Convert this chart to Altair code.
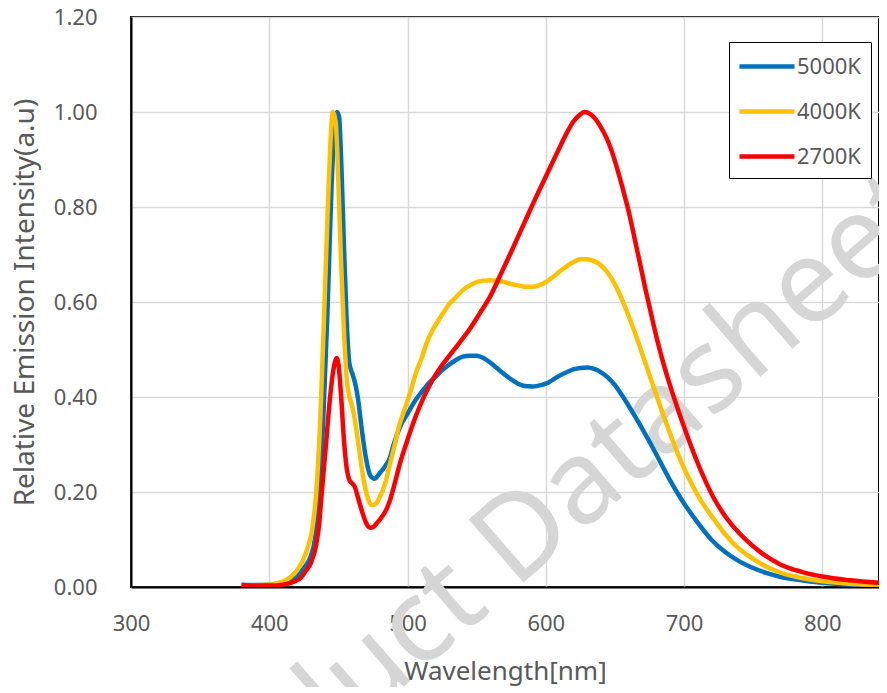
import altair as alt
import pandas as pd

# ---- data ----
wl_5000 = [380, 390, 400, 410, 415, 420, 425, 430, 433, 436, 439, 442, 445, 447, 449, 450.5, 452, 454, 456, 458,
           460, 462, 464, 467, 470, 473, 476, 480, 484, 487, 490, 495, 500, 505, 510, 515, 520, 525, 530, 535,
           540, 545, 550, 555, 560, 565, 570, 575, 580, 585, 590, 595, 600, 605, 610, 615, 620, 625, 630, 635,
           640, 645, 650, 655, 660, 665, 670, 675, 680, 685, 690, 695, 700, 710, 720, 730, 740, 750, 760, 770,
           780, 790, 800, 820, 850]
val_5000 = [0.004, 0.004, 0.005, 0.008, 0.013, 0.022, 0.04, 0.065, 0.10, 0.19, 0.35, 0.57, 0.84, 0.96, 1.00, 0.99, 0.90, 0.72, 0.56, 0.47,
            0.45, 0.43, 0.40, 0.33, 0.27, 0.235, 0.228, 0.24, 0.255, 0.27, 0.30, 0.34, 0.365, 0.39, 0.41, 0.428, 0.442, 0.456, 0.468, 0.478,
            0.485, 0.487, 0.487, 0.482, 0.472, 0.46, 0.448, 0.437, 0.428, 0.423, 0.422, 0.424, 0.428, 0.436, 0.445, 0.452, 0.458, 0.461, 0.462, 0.459,
            0.452, 0.441, 0.425, 0.404, 0.381, 0.357, 0.332, 0.306, 0.279, 0.251, 0.224, 0.199, 0.176, 0.135, 0.099, 0.073, 0.054, 0.04, 0.029, 0.021,
            0.016, 0.012, 0.009, 0.005, 0.002]

wl_4000 = [380, 400, 410, 415, 420, 425, 428, 431, 434, 437, 440, 442, 444, 446, 448, 450, 452, 454, 456, 458,
           460, 462, 465, 468, 471, 474, 477, 480, 484, 487, 490, 494, 498, 502, 506, 510, 514, 518, 522, 526,
           530, 535, 540, 545, 550, 555, 560, 565, 570, 575, 580, 585, 590, 595, 600, 605, 610, 615, 620, 625,
           630, 635, 640, 645, 650, 655, 660, 665, 670, 675, 680, 685, 690, 695, 700, 705, 712, 721, 730, 740,
           746, 755, 770, 785, 800, 820, 850]
val_4000 = [0.003, 0.005, 0.012, 0.02, 0.035, 0.06, 0.085, 0.12, 0.20, 0.36, 0.60, 0.77, 0.92, 1.00, 0.98, 0.85, 0.68, 0.54, 0.44, 0.40,
            0.38, 0.35, 0.29, 0.23, 0.19, 0.172, 0.175, 0.19, 0.22, 0.256, 0.29, 0.34, 0.375, 0.41, 0.45, 0.48, 0.515, 0.54, 0.56, 0.578,
            0.595, 0.61, 0.625, 0.635, 0.642, 0.645, 0.646, 0.645, 0.642, 0.638, 0.635, 0.632, 0.632, 0.635, 0.642, 0.652, 0.664, 0.675, 0.684, 0.69,
            0.69, 0.686, 0.677, 0.661, 0.637, 0.606, 0.57, 0.531, 0.489, 0.446, 0.404, 0.362, 0.322, 0.284, 0.25, 0.22, 0.183, 0.145, 0.11, 0.08,
            0.067, 0.05, 0.03, 0.019, 0.012, 0.007, 0.003]

wl_2700 = [380, 390, 400, 410, 415, 420, 423, 426, 430, 434, 436, 438, 441, 444, 446, 448, 449, 450, 452, 454,
           456, 458, 460, 462, 464, 467, 470, 473, 475, 478, 482, 485, 487, 490, 495, 500, 505, 511, 517, 524,
           530, 537, 545, 552, 560, 568, 576, 585, 592, 601, 608, 615, 620, 625, 628, 632, 636, 640, 644, 648,
           652, 656, 660, 664, 668, 672, 676, 680, 684, 688, 692, 696, 700, 710, 721, 730, 740, 746, 755, 770,
           785, 800, 820, 850]
val_2700 = [0.005, 0.003, 0.003, 0.005, 0.008, 0.014, 0.02, 0.032, 0.05, 0.09, 0.13, 0.20, 0.30, 0.40, 0.45, 0.478, 0.482, 0.47, 0.40, 0.31,
            0.25, 0.225, 0.218, 0.21, 0.19, 0.16, 0.135, 0.125, 0.126, 0.135, 0.15, 0.165, 0.18, 0.21, 0.265, 0.31, 0.352, 0.395, 0.43, 0.463,
            0.486, 0.512, 0.543, 0.575, 0.613, 0.662, 0.712, 0.77, 0.815, 0.87, 0.913, 0.955, 0.98, 0.995, 1.0, 0.996, 0.985, 0.967, 0.945, 0.915,
            0.877, 0.835, 0.79, 0.737, 0.683, 0.628, 0.577, 0.527, 0.482, 0.442, 0.405, 0.37, 0.337, 0.26, 0.19, 0.148, 0.113, 0.096, 0.074, 0.047,
            0.032, 0.022, 0.014, 0.007]

series_names = ["5000K", "4000K", "2700K"]
series_colors = ["#0070C0", "#FFC000", "#FF0000"]
x_ticks = [300, 400, 500, 600, 700, 800]
y_ticks = [0.0, 0.2, 0.4, 0.6, 0.8, 1.0, 1.2]
watermark_parts = ["Product", "Datasheet"]

rows = []
for name, wls, vals in zip(series_names, [wl_5000, wl_4000, wl_2700], [val_5000, val_4000, val_2700]):
    for w, v in zip(wls, vals):
        rows.append({"Wavelength": w, "Intensity": v, "CCT": name})
df = pd.DataFrame(rows)

FONT = "Noto Sans"
GRAY = "#595959"
WM = "#d6d6d6"

x_enc = alt.X("Wavelength:Q",
              scale=alt.Scale(domain=[300, 841], nice=False, zero=False),
              axis=alt.Axis(values=x_ticks, title="Wavelength[nm]", labelPadding=26, labelFlush=False,
                            titlePadding=24, titleFontSize=26))
y_enc = alt.Y("Intensity:Q",
              scale=alt.Scale(domain=[0, 1.2], nice=False),
              axis=alt.Axis(values=y_ticks, format=".2f", title="Relative Emission Intensity(a.u)",
                            labelPadding=34, labelFlush=False, titlePadding=14, titleFontSize=28))
color_enc = alt.Color("CCT:N",
                      scale=alt.Scale(domain=series_names, range=series_colors),
                      legend=alt.Legend(title=None, orient="none", legendX=598, legendY=25,
                                        symbolType="M-1.1667,0H3.4167", symbolSize=576,
                                        symbolStrokeWidth=4.5, labelOffset=29, padding=10,
                                        rowPadding=19, labelFontSize=22, labelColor=GRAY,
                                        labelFont=FONT, strokeColor="black", fillColor="white"))

wm1 = alt.Chart(pd.DataFrame({"t": [watermark_parts[1]]})).mark_text(
    font=FONT, fontSize=117, color=WM, angle=319, align="left", baseline="alphabetic").encode(
    x=alt.value(384), y=alt.value(573), text="t:N")
wm2 = alt.Chart(pd.DataFrame({"t": [watermark_parts[0]]})).mark_text(
    font=FONT, fontSize=117, color=WM, angle=319, align="right", baseline="alphabetic").encode(
    x=alt.value(361), y=alt.value(593), text="t:N")

lines = []
for name in series_names:
    lines.append(alt.Chart(df).transform_filter(alt.datum.CCT == name)
                 .mark_line(strokeWidth=4.5, interpolate="monotone", clip=True)
                 .encode(x=x_enc, y=y_enc, color=color_enc, order="Wavelength:Q"))

chart = alt.layer(wm2, wm1, *lines).properties(
    width=748, height=570,
    autosize=alt.AutoSizeParams(type="none"),
    padding={"left": 123, "top": 9, "right": 0, "bottom": 100},
).configure_view(stroke="black", strokeWidth=2).configure_axis(
    labelFont=FONT, titleFont=FONT, labelFontSize=22, labelColor=GRAY, titleColor=GRAY,
    titleFontWeight="normal", gridColor="#d9d9d9", gridWidth=1.5, ticks=False, tickSize=0,
    domainColor="black", domainWidth=2,
)

chart.save("out.html", embed_options={"renderer": "svg", "actions": False})
